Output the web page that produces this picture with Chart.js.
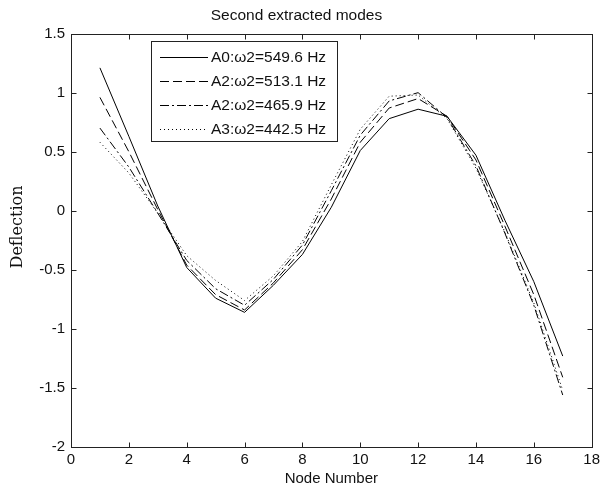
<!DOCTYPE html>
<html>
<head>
<meta charset="utf-8">
<script src="https://cdn.jsdelivr.net/npm/chart.js@4.4.1/dist/chart.umd.min.js"></script>
<style>
  html, body { margin: 0; padding: 0; background: #fff; }
  #wrap { width: 604px; height: 490px; }
</style>
</head>
<body>
<div id="wrap"><canvas id="modesChart" width="604" height="490"></canvas></div>
<script>
const nodes = [1, 2, 3, 4, 5, 6, 7, 8, 9, 10, 11, 12, 13, 14, 15, 16, 17];

const labelsModes = ['A0:\u03c92=549.6 Hz', 'A2:\u03c92=513.1 Hz', 'A2:\u03c92=465.9 Hz', 'A3:\u03c92=442.5 Hz'];

const modeA0 = [1.21, 0.63, 0.04, -0.48, -0.74, -0.86, -0.63, -0.37, 0.03, 0.51, 0.78, 0.86, 0.80, 0.47, -0.08, -0.60, -1.23];
const modeA2a = [0.96, 0.50, 0.01, -0.46, -0.71, -0.84, -0.61, -0.33, 0.10, 0.58, 0.87, 0.95, 0.80, 0.43, -0.13, -0.71, -1.41];
const modeA2b = [0.70, 0.37, -0.02, -0.42, -0.66, -0.80, -0.58, -0.29, 0.17, 0.64, 0.93, 1.00, 0.79, 0.38, -0.19, -0.80, -1.56];
const modeA3 = [0.58, 0.32, -0.02, -0.38, -0.59, -0.76, -0.55, -0.26, 0.22, 0.69, 0.97, 0.98, 0.78, 0.36, -0.18, -0.78, -1.52];

const xTicks = [0, 2, 4, 6, 8, 10, 12, 14, 16, 18];
const yTicks = [-2, -1.5, -1, -0.5, 0, 0.5, 1, 1.5];

const dashes = [[], [9, 4], [9, 3, 2, 3], [1, 3]];
const series = [modeA0, modeA2a, modeA2b, modeA3];

const sansFont = '"Liberation Sans", Arial, sans-serif';

function toPoints(values) {
    return values.map((v, i) => ({ x: nodes[i], y: v }));
}

// draws the box and the inward tick marks like matlab does
const framePlugin = {
    id: 'frame',
    afterDraw(chart) {
        const c = chart.ctx;
        const a = chart.chartArea;
        const xs = chart.scales.x;
        const ys = chart.scales.y;
        const L = Math.round(a.left) + 0.5, R = Math.round(a.right) + 0.5;
        const T = Math.round(a.top) + 0.5, B = Math.round(a.bottom) + 0.5;
        c.save();
        c.strokeStyle = '#222';
        c.lineWidth = 1;
        c.setLineDash([]);
        c.strokeRect(L, T, R - L, B - T);
        c.beginPath();
        xTicks.forEach(t => {
            const px = Math.round(xs.getPixelForValue(t)) + 0.5;
            c.moveTo(px, B); c.lineTo(px, B - 5);
            c.moveTo(px, T); c.lineTo(px, T + 5);
        });
        yTicks.forEach(t => {
            const py = Math.round(ys.getPixelForValue(t)) + 0.5;
            c.moveTo(L, py); c.lineTo(L + 5, py);
            c.moveTo(R, py); c.lineTo(R - 5, py);
        });
        c.stroke();

        // y label, a bit above the middle like in the original
        c.translate(18, 227);
        c.rotate(-Math.PI / 2);
        c.font = '16px "DejaVu Serif", serif';
        c.fillStyle = '#111';
        c.textAlign = 'center';
        c.textBaseline = 'middle';
        c.fillText('Deflection', 0, 0);
        c.restore();
    }
};

// legend box sitting inside the axes
const boxLegendPlugin = {
    id: 'boxLegend',
    afterDraw(chart) {
        const c = chart.ctx;
        const x0 = 151.5, y0 = 41.5, w = 186, h = 100;
        c.save();
        c.fillStyle = '#fff';
        c.fillRect(x0, y0, w, h);
        c.strokeStyle = '#222';
        c.lineWidth = 1;
        c.strokeRect(x0, y0, w, h);
        c.font = '15.5px ' + sansFont;
        c.textBaseline = 'middle';
        c.textAlign = 'left';
        chart.data.datasets.forEach((ds, i) => {
            const y = Math.round(57 + i * 24) + 0.5;
            c.strokeStyle = '#000';
            c.setLineDash(ds.borderDash || []);
            c.beginPath();
            c.moveTo(160, y);
            c.lineTo(208, y);
            c.stroke();
            c.setLineDash([]);
            c.fillStyle = '#111';
            c.fillText(ds.label, 211, y);
        });
        c.restore();
    }
};

const ctx = document.getElementById('modesChart').getContext('2d');

new Chart(ctx, {
    type: 'line',
    data: {
        datasets: series.map((vals, i) => ({
            label: labelsModes[i],
            data: toPoints(vals),
            borderColor: '#000',
            backgroundColor: '#000',
            borderWidth: 1,
            borderDash: dashes[i],
            pointRadius: 0,
            tension: 0,
            fill: false
        }))
    },
    options: {
        responsive: false,
        animation: false,
        devicePixelRatio: 1,
        layout: { padding: { left: 0, right: 11, top: 0, bottom: 0 } },
        plugins: {
            legend: { display: false },
            tooltip: { enabled: false },
            title: {
                display: true,
                text: 'Second extracted modes',
                color: '#111',
                font: { family: sansFont, size: 15.5, weight: 'normal' },
                padding: { top: 6, bottom: 9 }
            }
        },
        scales: {
            x: {
                type: 'linear',
                min: 0,
                max: 18,
                afterFit: s => { s.height = 43; },
                afterBuildTicks: s => { s.ticks = xTicks.map(v => ({ value: v })); },
                grid: { display: false, drawTicks: false },
                border: { display: false },
                ticks: {
                    color: '#111',
                    padding: 4,
                    maxRotation: 0,
                    font: { family: sansFont, size: 15 },
                    callback: v => String(v)
                },
                title: {
                    display: true,
                    text: 'Node Number',
                    color: '#111',
                    font: { family: sansFont, size: 15 },
                    padding: { top: 0, bottom: 2 }
                }
            },
            y: {
                type: 'linear',
                min: -2,
                max: 1.5,
                afterFit: s => { s.width = 71; },
                afterBuildTicks: s => { s.ticks = yTicks.map(v => ({ value: v })); },
                grid: { display: false, drawTicks: false },
                border: { display: false },
                ticks: {
                    color: '#111',
                    padding: 6,
                    font: { family: sansFont, size: 15 },
                    callback: v => String(v)
                }
            }
        }
    },
    plugins: [framePlugin, boxLegendPlugin]
});
</script>
</body>
</html>
